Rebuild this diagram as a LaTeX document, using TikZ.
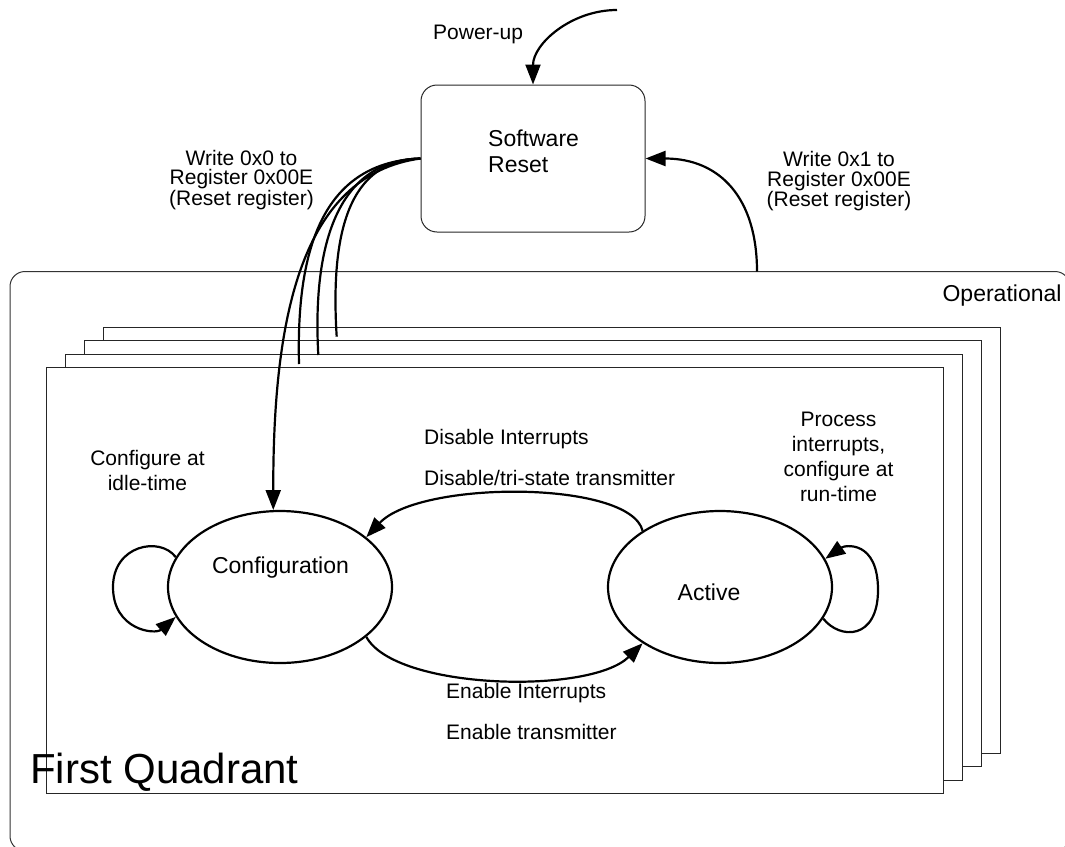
\documentclass[tikz,border=0pt]{standalone}
\usepackage{fontspec}
\setmainfont{Liberation Sans}
\usetikzlibrary{arrows.meta,shapes.geometric}

\begin{document}
\begin{tikzpicture}[x=1pt,y=-1pt,
  frame/.style={draw=black!80, line width=1pt, rounded corners=15pt, inner sep=0pt},
  quad/.style={draw=black!85, line width=1pt, fill=white, inner sep=0pt,
               minimum width=897pt, minimum height=426pt},
  state/.style={ellipse, draw, line width=2.2pt, inner sep=0pt,
                minimum width=224pt, minimum height=152pt},
  conn/.style={line width=2.2pt, -{Triangle[length=20pt,width=15pt]}},
  wire/.style={line width=2.2pt},
  lbl/.style={inner sep=0pt, font=\fontsize{21}{19.3}\selectfont},
  note/.style={inner sep=0pt, align=center, font=\fontsize{21}{25}\selectfont},
  pair/.style={inner sep=0pt, align=left, font=\fontsize{21}{41}\selectfont},
  big/.style={inner sep=0pt, font=\fontsize{23}{26.7}\selectfont},
]
\useasboundingbox (0,0) rectangle (1065,846);
\clip (0,0) rectangle (1065,846);

% outer "Operational" frame, running past the right and bottom edges
\node[frame, minimum width=1060pt, minimum height=579.5pt] (op) at (540,561.25) {};
\node[big, anchor=base east] (optext) at (1061.7,301.7) {Operational};

% stack of quadrants, back to front
\node[quad] (q4) at (551.5,540.5) {};
\node[quad] (q3) at (532.65,553.85) {};
\node[quad] (q2) at (514,567.15) {};
\node[quad] (q1) at (495.35,580.3) {};
\node[inner sep=0pt, anchor=base west, font=\fontsize{42}{48}\selectfont] (fq) at (30,783) {First Quadrant};

% software reset state
\node[draw=black!85, line width=1pt, rounded corners=16pt, inner sep=0pt,
      minimum width=224pt, minimum height=147pt] (reset) at (533,158.5) {};
\node[big, align=left, anchor=base west] (resettext) at (488,172.7) {Software\\Reset};

% operating states
\node[state] (conf) at (280,587) {};
\node[state] (act) at (720,587) {};
\node[big, anchor=base] (conftext) at (280.5,573) {Configuration};
\node[big, anchor=base] (acttext) at (709,600) {Active};

% labels (multi-line nodes sit on the baseline of their last line)
\node[lbl, anchor=base west] (pwr) at (433,39.3) {Power-up};
\node[lbl, align=center, anchor=base] (w0) at (241.5,205.3) {Write 0x0 to\\Register 0x00E\\(Reset register)};
\node[lbl, align=center, anchor=base] (w1) at (839,206.6) {Write 0x1 to\\Register 0x00E\\(Reset register)};
\node[note, anchor=base] (idle) at (147.5,490) {Configure at\\idle-time};
\node[note, anchor=base] (run) at (838.5,501.7) {Process\\interrupts,\\configure at\\run-time};
\node[pair, anchor=base west] (dis) at (424,485) {Disable Interrupts\\Disable/tri-state transmitter};
\node[pair, anchor=base west] (en) at (446,739) {Enable Interrupts\\Enable transmitter};

% free ends of connectors
\coordinate (pu) at (617,10);
\coordinate (optop) at (757,271.5);
\coordinate (e1) at (299,364);
\coordinate (e2) at (318.3,355);
\coordinate (e3) at (336.7,336.7);

% power-up entry
\draw[conn] (pu) .. controls (571,10) and (533,44) .. (reset.north);
% leaving the operational frame back to reset
\draw[conn] (optop) .. controls (757,198) and (720,158.5) .. (reset.east);
% reset fanning out to every quadrant
\draw[wire] (reset.west) .. controls (350,160) and (330,230) .. (e3);
\draw[wire] (reset.west) .. controls (340,160) and (312,240) .. (e2);
\draw[wire] (reset.west) .. controls (325,162) and (296,245) .. (e1);
\draw[conn] (reset.west) .. controls (300,175) and (273,320) .. (conf.95);

% transitions between configuration and active
\draw[conn] (act.144) .. controls (630,480) and (420,480) .. (conf.30);
\draw[conn] (conf.-30) .. controls (395,690) and (590,695) .. (act.216);

% self loops
\draw[conn] (conf.164) .. controls (160,536) and (113,545) .. (113,587)
                       .. controls (113,630) and (155,635) .. (conf.196);
\draw[conn] (act.-17) .. controls (840,640) and (878,640) .. (878,590)
                      .. controls (878,540) and (845,545) .. (act.15);
\end{tikzpicture}
\end{document}
